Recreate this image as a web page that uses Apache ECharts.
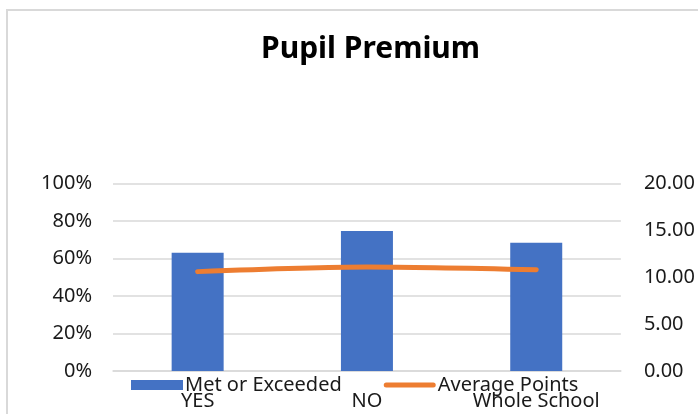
<!DOCTYPE html>
<html lang="en">
<head>
  <meta charset="UTF-8">
  <title>Pupil Premium</title>
  <style>
    body { margin: 0; padding: 0; background: #fff; }
    #chart { width: 698px; height: 414px; }
  </style>
</head>
<body>
  <div id="chart"></div>
  <script src="https://cdn.jsdelivr.net/npm/echarts@6/dist/echarts.min.js"></script>
  <script>
    var categories = ['YES', 'NO', 'Whole School'];
    var metOrExceeded = [0.631, 0.747, 0.684];   // left axis, share
    var averagePoints = [10.6, 11.1, 10.8];      // right axis, points

    var chart = echarts.init(document.getElementById('chart'));
    var font = '"Noto Sans", sans-serif';
    var textColor = '#1a1a1a';

    var option = {
      animation: false,
      title: {
        text: 'Pupil Premium',
        left: 256,
        top: 29,
        textStyle: { fontFamily: font, fontSize: 30, fontWeight: 'bold', color: '#000' }
      },
      // chart frame
      graphic: [{
        type: 'rect',
        shape: { x: 7, y: 10, width: 720, height: 440 },
        style: { fill: 'none', stroke: '#d9d9d9', lineWidth: 2 },
        silent: true
      }],
      legend: {
        left: 126,
        top: 370,
        itemWidth: 52,
        itemHeight: 10,
        itemGap: 42,
        textStyle: { fontFamily: font, fontSize: 20, color: textColor, padding: [0, 0, 0, -3] },
        data: [
          { name: 'Met or Exceeded', icon: 'rect' },
          { name: 'Average Points', icon: 'path://M2.5,0 L49.5,0 A2.5,2.5 0 0 1 49.5,5 L2.5,5 A2.5,2.5 0 0 1 2.5,0 Z' }
        ]
      },
      grid: { left: 113, right: 76, top: 183.5, bottom: 43 },
      xAxis: {
        type: 'category',
        data: categories,
        axisLine: { lineStyle: { color: '#d9d9d9', width: 1.5 } },
        axisTick: { show: false },
        axisLabel: { margin: 20, fontFamily: font, fontSize: 20, color: textColor }
      },
      yAxis: [{
        type: 'value',
        min: 0,
        max: 1,
        interval: 0.2,
        axisLine: { show: false },
        axisTick: { show: false },
        splitLine: { lineStyle: { color: '#d9d9d9', width: 1.5 } },
        axisLabel: {
          margin: 21,
          fontFamily: font, fontSize: 20, color: textColor,
          formatter: function (v) { return Math.round(v * 100) + '%'; }
        }
      }, {
        type: 'value',
        min: 0,
        max: 20,
        interval: 5,
        axisLine: { show: false },
        axisTick: { show: false },
        splitLine: { show: false },
        axisLabel: {
          margin: 23,
          fontFamily: font, fontSize: 20, color: textColor,
          formatter: function (v) { return v.toFixed(2); }
        }
      }],
      series: [{
        name: 'Met or Exceeded',
        type: 'bar',
        yAxisIndex: 0,
        barWidth: 52,
        itemStyle: { color: '#4472C4' },
        data: metOrExceeded
      }, {
        name: 'Average Points',
        type: 'line',
        yAxisIndex: 1,
        smooth: 0.3,
        symbol: 'none',
        lineStyle: { color: '#ED7D31', width: 5, cap: 'round' },
        itemStyle: { color: '#ED7D31' },
        data: averagePoints
      }]
    };

    chart.setOption(option);
  </script>
</body>
</html>
